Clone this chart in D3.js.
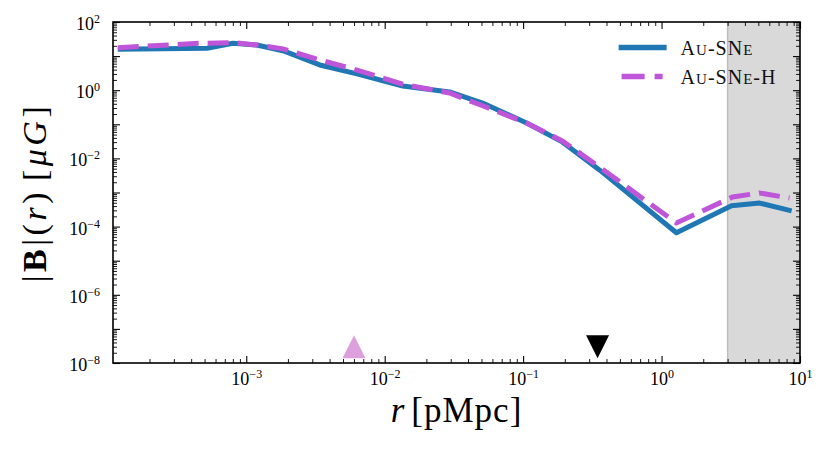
<!DOCTYPE html>
<html>
<head>
<meta charset="utf-8">
<script src="https://cdnjs.cloudflare.com/ajax/libs/d3/7.8.5/d3.min.js"></script>
<style>
    body { margin: 0; background: #fff; }
    svg { display: block; font-family: "Liberation Serif", "DejaVu Serif", serif; }
    .tick text { font-family: "Liberation Serif", serif; }
</style>
</head>
<body>
<div id="container"></div>
<script>
// Au-SNe (solid blue)
const rSNe = [1.18e-4, 5.2e-4, 8.0e-4, 1.19e-3, 1.84e-3, 3.4e-3, 6.3e-3, 0.0135, 0.0294, 0.051, 0.106, 0.193, 0.356, 1.28, 3.2, 5.1, 8.7];
const bSNe = [15.8, 16.9, 23.7, 21.2, 14.4, 5.5, 3.0, 1.33, 0.89, 0.42, 0.109, 0.030, 0.0046, 6.6e-5, 4.1e-4, 4.9e-4, 2.9e-4];

// Au-SNe-H (dashed magenta)
const rSNeH = [1.18e-4, 4.6e-4, 8.3e-4, 1.19e-3, 1.84e-3, 3.4e-3, 6.3e-3, 0.0135, 0.0294, 0.051, 0.106, 0.193, 0.356, 1.28, 3.26, 5.1, 8.4];
const bSNeH = [17.6, 23.7, 24.7, 21.2, 16.3, 7.7, 3.9, 1.5, 0.83, 0.35, 0.109, 0.032, 0.0056, 1.28e-4, 7.4e-4, 9.7e-4, 6.9e-4];

// legend names, split into [text, small-caps?] runs
const seriesNames = [
    [['A', 0], ['u', 1], ['-SN', 0], ['e', 1]],
    [['A', 0], ['u', 1], ['-SN', 0], ['e', 1], ['-H', 0]]
];

// ticks
const xDecades = [-4, -3, -2, -1, 0, 1];
const xLabelled = [-3, -2, -1, 0, 1];
const yDecades = [-8, -7, -6, -5, -4, -3, -2, -1, 0, 1, 2];
const yLabelled = [-8, -6, -4, -2, 0, 2];

// shaded region and markers
const shadeRange = [3, 10];
const markerUp = [0.006, 3e-8];
const markerDown = [0.345, 3e-8];

const W = 830, H = 453;
const margin = { left: 113, right: 30, top: 22, bottom: 90 };
const width = W - margin.left - margin.right;
const height = H - margin.top - margin.bottom;

const svg = d3.select('#container').append('svg')
    .attr('width', W)
    .attr('height', H);

const chart = svg.append('g')
    .attr('transform', `translate(${margin.left}, ${margin.top})`);

const xScale = d3.scaleLog()
    .domain([1.09e-4, 10])
    .range([0, width]);

const yScale = d3.scaleLog()
    .domain([1e-8, 1e2])
    .range([height, 0]);

// shaded region
chart.append('rect')
    .attr('x', xScale(shadeRange[0]))
    .attr('y', 0)
    .attr('width', xScale(shadeRange[1]) - xScale(shadeRange[0]))
    .attr('height', height)
    .attr('fill', '#d9d9d9');

chart.append('line')
    .attr('x1', xScale(shadeRange[0]))
    .attr('x2', xScale(shadeRange[0]))
    .attr('y1', 0)
    .attr('y2', height)
    .attr('stroke', '#bdbdbd')
    .attr('stroke-width', 1.5);

const line = d3.line()
    .x(d => xScale(d[0]))
    .y(d => yScale(d[1]));

chart.append('path')
    .datum(d3.zip(rSNe, bSNe))
    .attr('d', line)
    .attr('fill', 'none')
    .attr('stroke', '#1f77b4')
    .attr('stroke-width', 5)
    .attr('stroke-linejoin', 'round');

chart.append('path')
    .datum(d3.zip(rSNeH, bSNeH))
    .attr('d', line)
    .attr('fill', 'none')
    .attr('stroke', '#bf55d8')
    .attr('stroke-width', 5)
    .attr('stroke-dasharray', '21,9');

// triangle markers
const tri = (cx, cy, s, up) => up
    ? `M${cx},${cy - s}L${cx - s},${cy + s}L${cx + s},${cy + s}Z`
    : `M${cx},${cy + s}L${cx - s},${cy - s}L${cx + s},${cy - s}Z`;

chart.append('path')
    .attr('d', tri(xScale(markerUp[0]), yScale(markerUp[1]), 11.5, true))
    .attr('fill', '#dda0dd');

chart.append('path')
    .attr('d', tri(xScale(markerDown[0]), yScale(markerDown[1]), 11.5, false))
    .attr('fill', '#000');

// ticks
const xMajor = xDecades.map(e => Math.pow(10, e)).filter(v => v >= xScale.domain()[0]);
const xMinor = [];
xDecades.forEach(e => d3.range(2, 10).forEach(m => {
    const v = m * Math.pow(10, e);
    if (v > xScale.domain()[0] && v < xScale.domain()[1]) xMinor.push(v);
}));
const yMajor = yDecades.map(e => Math.pow(10, e));
const yMinor = [];
yDecades.slice(0, -1).forEach(e => d3.range(2, 10).forEach(m => yMinor.push(m * Math.pow(10, e))));

const sup = (sel, isLabelled) => {
    sel.selectAll('.tick text').each(function (d) {
        const e = Math.round(Math.log10(d));
        const t = d3.select(this).text('');
        if (!isLabelled.includes(e)) return;
        t.append('tspan').text('10');
        t.append('tspan')
            .attr('dy', -7)
            .attr('font-size', 12)
            .text(e < 0 ? '\u2212' + Math.abs(e) : e);
    });
};

const styleAxis = (g, w) => {
    g.select('.domain').remove();
    g.selectAll('.tick line').attr('stroke', '#000').attr('stroke-width', w);
};

chart.append('g')
    .attr('transform', `translate(0, ${height})`)
    .call(d3.axisBottom(xScale).tickValues(xMajor).tickSize(-7).tickPadding(12))
    .call(g => styleAxis(g, 1.1))
    .call(g => g.selectAll('.tick text').attr('font-size', 18).attr('fill', '#000').attr('dy', 10))
    .call(g => sup(g, xLabelled));

chart.append('g')
    .attr('transform', `translate(0, ${height})`)
    .call(d3.axisBottom(xScale).tickValues(xMinor).tickSize(-4).tickFormat(''))
    .call(g => styleAxis(g, 0.9));

chart.append('g')
    .call(d3.axisTop(xScale).tickValues(xMajor).tickSize(-7).tickFormat(''))
    .call(g => styleAxis(g, 1.1));

chart.append('g')
    .call(d3.axisTop(xScale).tickValues(xMinor).tickSize(-4).tickFormat(''))
    .call(g => styleAxis(g, 0.9));

chart.append('g')
    .call(d3.axisLeft(yScale).tickValues(yMajor).tickSize(-7).tickPadding(13))
    .call(g => styleAxis(g, 1.1))
    .call(g => g.selectAll('.tick text').attr('font-size', 18).attr('fill', '#000').attr('dy', '0.42em'))
    .call(g => sup(g, yLabelled));

chart.append('g')
    .call(d3.axisLeft(yScale).tickValues(yMinor).tickSize(-4).tickFormat(''))
    .call(g => styleAxis(g, 0.9));

chart.append('g')
    .attr('transform', `translate(${width}, 0)`)
    .call(d3.axisRight(yScale).tickValues(yMajor).tickSize(-7).tickFormat(''))
    .call(g => styleAxis(g, 1.1));

chart.append('g')
    .attr('transform', `translate(${width}, 0)`)
    .call(d3.axisRight(yScale).tickValues(yMinor).tickSize(-4).tickFormat(''))
    .call(g => styleAxis(g, 0.9));

// frame
chart.append('rect')
    .attr('width', width)
    .attr('height', height)
    .attr('fill', 'none')
    .attr('stroke', '#000')
    .attr('stroke-width', 1.6);

// legend
const legend = chart.append('g')
    .attr('transform', `translate(${xScale(3) - 109}, 25.5)`);

legend.append('line')
    .attr('x1', 0).attr('x2', 48)
    .attr('y1', 0).attr('y2', 0)
    .attr('stroke', '#1f77b4')
    .attr('stroke-width', 5.5);

legend.append('line')
    .attr('x1', 3).attr('x2', 44)
    .attr('y1', 29).attr('y2', 29)
    .attr('stroke', '#bf55d8')
    .attr('stroke-width', 5.5)
    .attr('stroke-dasharray', '23,10');

legend.selectAll('.ltext')
    .data(seriesNames)
    .enter()
    .append('text')
    .attr('class', 'ltext')
    .attr('x', 62)
    .attr('y', (d, i) => 7.5 + i * 28.5)
    .attr('fill', '#111')
    .attr('letter-spacing', 1)
    .each(function (runs) {
        const t = d3.select(this);
        runs.forEach(([s, sc]) => t.append('tspan')
            .attr('font-size', sc ? 15 : 20)
            .text(sc ? s.toUpperCase() : s));
    });

// axis labels
const yLab = svg.append('text')
    .attr('transform', `translate(46, ${margin.top + height / 2}) rotate(-90)`)
    .attr('text-anchor', 'middle')
    .attr('font-size', 34)
    .attr('letter-spacing', 3.5)
    .attr('fill', '#000');
yLab.append('tspan').text('|');
yLab.append('tspan').attr('font-weight', 'bold').text('B');
yLab.append('tspan').text('|(');
yLab.append('tspan').attr('font-style', 'italic').text('r');
yLab.append('tspan').text(')');
yLab.append('tspan').attr('dx', 8).text('[');
yLab.append('tspan').attr('font-style', 'italic').text('\u03bcG');
yLab.append('tspan').text(']');

const xLab = svg.append('text')
    .attr('x', margin.left + width / 2)
    .attr('y', 422)
    .attr('text-anchor', 'middle')
    .attr('font-size', 35)
    .attr('letter-spacing', 1)
    .attr('fill', '#000');
xLab.append('tspan').attr('font-style', 'italic').text('r');
xLab.append('tspan').attr('dx', 6).text('[pMpc]');
</script>
</body>
</html>
